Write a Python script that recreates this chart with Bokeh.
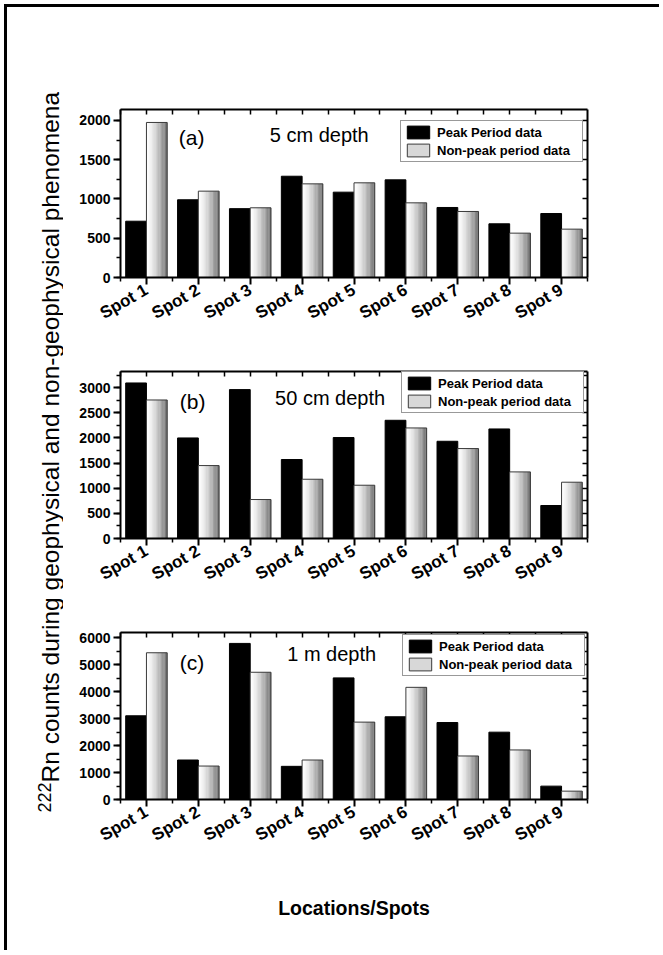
from math import pi
import numpy as np
from bokeh.plotting import figure
from bokeh.models import (Range1d, LinearAxis, FixedTicker, ColumnDataSource,
                          Legend, LegendItem, Label)
from bokeh.layouts import column, row
from bokeh.embed import file_html
from bokeh.resources import INLINE

# ---------------- data ----------------
spots = ["Spot 1", "Spot 2", "Spot 3", "Spot 4", "Spot 5",
         "Spot 6", "Spot 7", "Spot 8", "Spot 9"]
series_names = ["Peak Period data", "Non-peak period data"]

peak_5cm = [717, 990, 877, 1290, 1087, 1244, 892, 684, 815]
nonpeak_5cm = [1975, 1100, 888, 1193, 1206, 951, 841, 565, 616]
peak_50cm = [3092, 1999, 2960, 1570, 2007, 2350, 1933, 2178, 656]
nonpeak_50cm = [2754, 1450, 775, 1178, 1059, 2198, 1788, 1324, 1119]
peak_1m = [3108, 1466, 5795, 1231, 4515, 3071, 2858, 2500, 496]
nonpeak_1m = [5448, 1242, 4724, 1466, 2873, 4164, 1616, 1840, 310]

panel_tags = ["(a)", "(b)", "(c)"]
depth_labels = ["5 cm depth", "50 cm depth", "1 m depth"]
y_max = [2140, 3320, 6200]
y_major_a = [0, 500, 1000, 1500, 2000]
y_major_b = [0, 500, 1000, 1500, 2000, 2500, 3000]
y_major_c = [0, 1000, 2000, 3000, 4000, 5000, 6000]
y_minor_step = [250, 250, 500]

y_label_sup = "222"
y_label_main = "Rn counts during geophysical and non-geophysical phenomena"
x_label = "Locations/Spots"

FONT = "Liberation Sans"
PANEL_W = 596


def make_panel(peak, nonpeak, tag, depth, ymax, major, minor_step,
               height, b_top, b_bottom, tag_xy, depth_xy, leg_loc, xlabel=None):
    p = figure(width=PANEL_W, height=height,
               x_range=Range1d(0.5, 9.5), y_range=Range1d(0, ymax),
               output_backend="svg", toolbar_location=None,
               x_axis_location=None, y_axis_location=None,
               min_border_left=57, min_border_right=PANEL_W - 57 - 467,
               min_border_top=b_top, min_border_bottom=b_bottom)
    p.xgrid.visible = False
    p.ygrid.visible = False
    p.outline_line_color = None
    p.background_fill_color = "white"
    p.border_fill_color = "white"

    xpos = np.arange(1, len(spots) + 1)
    src = ColumnDataSource(dict(xp=xpos - 0.2, xn=xpos + 0.2,
                                peak=peak, nonpeak=nonpeak))

    r_peak = p.vbar(x="xp", top="peak", width=0.4, bottom=0, source=src,
                    fill_color="black", line_color="black", line_width=1)

    # horizontal gradient (white -> grey) for the non-peak bars, one renderer per strip
    N = 16
    strip_renderers = []
    for k in range(N):
        t = (k + 0.5) / N
        g = int(round(255 - 150 * t ** 1.5))
        col = "#%02x%02x%02x" % (g, g, g)
        ssrc = ColumnDataSource(dict(x=xpos + (k + 0.5) * 0.4 / N, top=nonpeak))
        r = p.vbar(x="x", top="top", width=0.4 / N * 1.15, bottom=0, source=ssrc,
                   fill_color=col, line_color=None)
        strip_renderers.append(r)
    r_np_outline = p.vbar(x="xn", top="nonpeak", width=0.4, bottom=0, source=src,
                          fill_color=None, line_color="#3a3a3a", line_width=1)

    # axes
    xt = FixedTicker(ticks=list(xpos),
                     minor_ticks=[i + 0.5 for i in range(0, len(spots) + 1)])
    below = LinearAxis(ticker=xt,
                       major_label_overrides={int(i + 1): s for i, s in enumerate(spots)},
                       major_label_orientation=pi / 6,
                       major_label_text_font=FONT,
                       major_label_text_font_style="bold",
                       major_label_text_font_size="17px",
                       major_label_text_color="black",
                       major_label_standoff=4,
                       axis_line_width=2, axis_line_color="black",
                       major_tick_in=0, major_tick_out=7, major_tick_line_width=2,
                       minor_tick_in=0, minor_tick_out=4, minor_tick_line_width=1.5)
    if xlabel:
        below.axis_label = xlabel
        below.axis_label_text_font = FONT
        below.axis_label_text_font_style = "bold"
        below.axis_label_text_font_size = "19.5px"
        below.axis_label_text_color = "black"
        below.axis_label_standoff = 41
    p.add_layout(below, "below")

    minors = list(range(0, ymax + 1, minor_step))
    left = LinearAxis(ticker=FixedTicker(ticks=major, minor_ticks=minors),
                      major_label_text_font=FONT,
                      major_label_text_font_style="bold",
                      major_label_text_font_size="14px",
                      major_label_text_color="black",
                      major_label_standoff=3,
                      axis_line_width=2, axis_line_color="black",
                      major_tick_in=0, major_tick_out=7, major_tick_line_width=2,
                      minor_tick_in=0, minor_tick_out=4, minor_tick_line_width=1.5)
    p.add_layout(left, "left")

    above = LinearAxis(ticker=FixedTicker(ticks=[], minor_ticks=[i * 0.5 for i in range(1, 2 * len(spots) + 1)]),
                       axis_line_width=2, axis_line_color="black",
                       major_tick_in=0, major_tick_out=0,
                       minor_tick_in=5, minor_tick_out=0, minor_tick_line_width=1.5)
    p.add_layout(above, "above")

    right = LinearAxis(ticker=FixedTicker(ticks=[], minor_ticks=minors[1:]),
                       axis_line_width=2, axis_line_color="black",
                       major_tick_in=0, major_tick_out=0,
                       minor_tick_in=5, minor_tick_out=0, minor_tick_line_width=1.5)
    p.add_layout(right, "right")

    # panel annotations
    p.add_layout(Label(x=tag_xy[0], y=tag_xy[1], text=tag, text_font=FONT,
                       text_font_size="21px", text_align="center",
                       text_baseline="middle", text_color="black"))
    p.add_layout(Label(x=depth_xy[0], y=depth_xy[1], text=depth, text_font=FONT,
                       text_font_size="20px", text_align="center",
                       text_baseline="middle", text_color="black"))

    mid = strip_renderers[N // 2 - 2]
    legend = Legend(items=[LegendItem(label=series_names[0], renderers=[r_peak]),
                           LegendItem(label=series_names[1], renderers=[mid, r_np_outline])],
                    location=leg_loc, padding=3, spacing=2, margin=0,
                    glyph_width=28, glyph_height=16, label_height=16,
                    label_width=142, label_standoff=5,
                    label_text_font=FONT, label_text_font_style="bold",
                    label_text_font_size="13px", label_text_color="black",
                    border_line_color="#333333", border_line_width=1.5,
                    background_fill_color="white", background_fill_alpha=1)
    p.add_layout(legend)
    return p


H_A, H_B, H_C = 338, 260, 345
pa = make_panel(peak_5cm, nonpeak_5cm, panel_tags[0], depth_labels[0], y_max[0],
                y_major_a, y_minor_step[0], H_A, 102, 68,
                (1.87, 1783), (4.33, 1809), (280, 115))
pb = make_panel(peak_50cm, nonpeak_50cm, panel_tags[1], depth_labels[1], y_max[1],
                y_major_b, y_minor_step[1], H_B, 26, 67,
                (1.89, 2728), (4.54, 2798), (281, 125))
pc = make_panel(peak_1m, nonpeak_1m, panel_tags[2], depth_labels[2], y_max[2],
                y_major_c, y_minor_step[2], H_C, 27, H_C - 27 - 167,
                (1.88, 5086), (4.57, 5384), (282, 123), xlabel=x_label)

# shared y-axis title (with superscript mass number)
LH = H_A + H_B + H_C
lf = figure(width=56, height=LH, x_range=Range1d(0, 56), y_range=Range1d(0, LH),
            output_backend="svg", toolbar_location=None, min_border=0,
            x_axis_location=None, y_axis_location=None)
lf.xgrid.visible = False
lf.ygrid.visible = False
lf.outline_line_color = None
lf.add_layout(Label(x=43, y=LH - (782 - 7), text=y_label_main, angle=pi / 2,
                    text_font=FONT, text_font_size="24.5px", text_align="left",
                    text_baseline="alphabetic", text_color="black"))
lf.add_layout(Label(x=37, y=LH - (812 - 7), text=y_label_sup, angle=pi / 2,
                    text_font=FONT, text_font_size="18px", text_align="left",
                    text_baseline="alphabetic", text_color="black"))

layout = row(lf, column(pa, pb, pc), margin=(4, 0, 0, 4),
             styles={"border-top": "3px solid black", "border-left": "3px solid black"})

open("out.html", "w").write(file_html(layout, INLINE))
